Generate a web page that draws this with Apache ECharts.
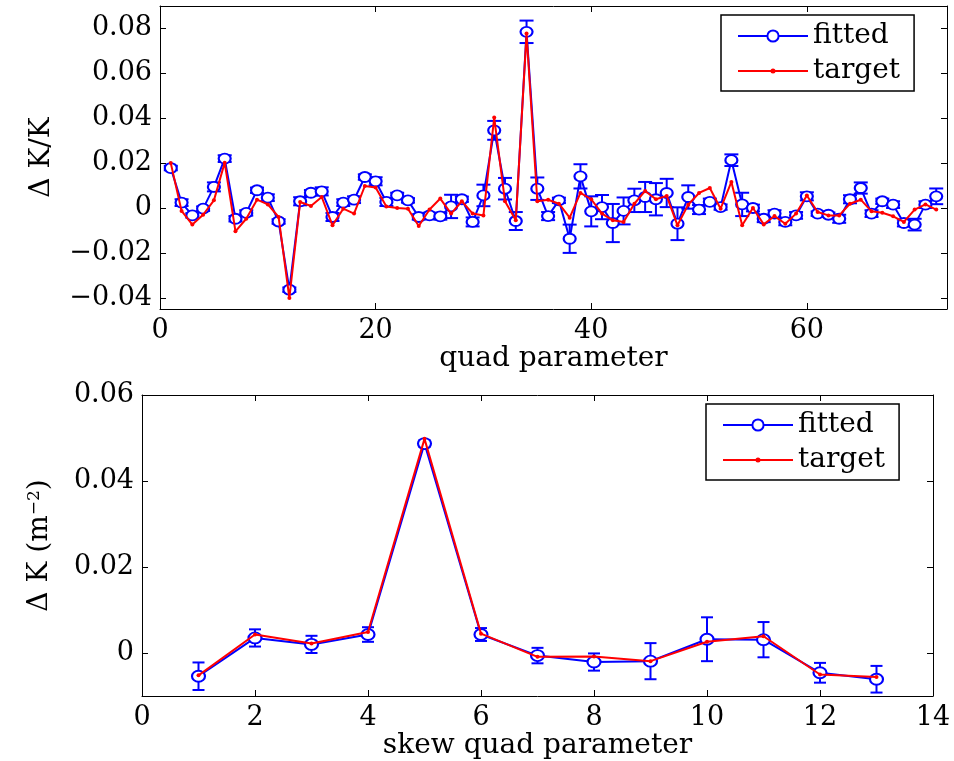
<!DOCTYPE html>
<html>
  <script src="https://cdn.jsdelivr.net/npm/echarts@6/dist/echarts.min.js"></script>
  <head>
    <meta charset="utf-8" />
    <title>quad fit</title>
  </head>
  <body style="margin:0">
    <div id="main" style="width: 954px; height: 761px;"></div>
  </body>
  <script>
    // top panel: quad parameters 1..72
    var quadFitted = [
      0.0178, 0.0024, -0.0033, -0.0003, 0.0094, 0.0220, -0.0048, -0.0022, 0.0079, 0.0046,
      -0.0060, -0.0364, 0.0030, 0.0068, 0.0074, -0.0040, 0.0024, 0.0037, 0.0138, 0.0119,
      0.0027, 0.0056, 0.0034, -0.0040, -0.0033, -0.0037, 0.0007, 0.0039, -0.0062, 0.0056,
      0.0346, 0.0086, -0.0058, 0.0785, 0.0086, -0.0036, 0.0034, -0.0137, 0.0141, -0.0015,
      0.0004, -0.0067, -0.0013, 0.0034, 0.0049, 0.0039, 0.0067, -0.0070, 0.0049, -0.0007,
      0.0027, 0.0004, 0.0213, 0.0016, 0.0000, -0.0048, -0.0025, -0.0062, -0.0033, 0.0052,
      -0.0025, -0.0030, -0.0048, 0.0039, 0.0089, -0.0025, 0.0030, 0.0015, -0.0067, -0.0074,
      0.0015, 0.0052
    ]
    var quadTarget = [
      0.0200, -0.0013, -0.0074, -0.0030, 0.0034, 0.0202, -0.0104, -0.0048, 0.0037, 0.0016,
      -0.0040, -0.0401, 0.0027, 0.0009, 0.0049, -0.0077, -0.0003, -0.0025, 0.0098, 0.0091,
      0.0007, 0.0000, -0.0003, -0.0080, -0.0007, 0.0042, -0.0025, 0.0030, -0.0025, -0.0033,
      0.0403, 0.0030, -0.0055, 0.0777, 0.0030, 0.0037, 0.0019, -0.0043, 0.0067, 0.0039,
      -0.0025, -0.0055, -0.0062, 0.0019, 0.0076, 0.0039, 0.0054, -0.0077, 0.0015, 0.0067,
      0.0089, -0.0003, 0.0116, -0.0077, 0.0000, -0.0073, -0.0036, -0.0070, -0.0025, 0.0056,
      -0.0018, -0.0033, -0.0033, 0.0019, 0.0037, -0.0015, -0.0021, -0.0037, -0.0062, -0.0007,
      0.0016, -0.0007
    ]
    var quadErr = [
      0.0010, 0.0015, 0.0010, 0.0010, 0.0020, 0.0015, 0.0012, 0.0012, 0.0012, 0.0015,
      0.0010, 0.0010, 0.0018, 0.0012, 0.0018, 0.0018, 0.0015, 0.0015, 0.0012, 0.0018,
      0.0018, 0.0012, 0.0010, 0.0012, 0.0012, 0.0015, 0.0052, 0.0012, 0.0020, 0.0048,
      0.0042, 0.0048, 0.0040, 0.0050, 0.0050, 0.0018, 0.0012, 0.0063, 0.0054, 0.0067,
      0.0054, 0.0085, 0.0060, 0.0052, 0.0067, 0.0072, 0.0063, 0.0073, 0.0052, 0.0020,
      0.0015, 0.0012, 0.0026, 0.0052, 0.0015, 0.0015, 0.0015, 0.0015, 0.0015, 0.0018,
      0.0010, 0.0010, 0.0018, 0.0018, 0.0025, 0.0015, 0.0012, 0.0015, 0.0015, 0.0026,
      0.0015, 0.0035
    ]
    var quadTicksX = [0, 20, 40, 60]
    var quadTicksY = [-0.04, -0.02, 0, 0.02, 0.04, 0.06, 0.08]

    // bottom panel: skew quad parameters 1..13
    var skewFitted = [-0.0054, 0.0035, 0.0020, 0.0043, 0.0487, 0.0043, -0.0006, -0.0021, -0.0019, 0.0032, 0.0031, -0.0046, -0.0061]
    var skewTarget = [-0.0052, 0.0043, 0.0022, 0.0049, 0.0498, 0.0045, -0.0009, -0.0008, -0.0019, 0.0026, 0.0039, -0.0050, -0.0056]
    var skewErr = [0.0032, 0.0020, 0.0020, 0.0017, 0.0008, 0.0015, 0.0018, 0.0020, 0.0042, 0.0051, 0.0041, 0.0023, 0.0031]
    var skewTicksX = [0, 2, 4, 6, 8, 10, 12, 14]
    var skewTicksY = [0, 0.02, 0.04, 0.06]

    var FONT = 'DejaVu Serif'
    var BLUE = '#0000ff'
    var RED = '#ff0000'
    // legend icon for target: thin line with a small dot in the middle
    var DOT_ICON = 'path://M0 6 H70 V8 H0 Z M32.5 7 A2.5 2.5 0 1 1 37.5 7 A2.5 2.5 0 1 1 32.5 7 Z'

    function pairs(vals) {
      var out = []
      for (var i = 0; i < vals.length; i++) out.push([i + 1, vals[i]])
      return out
    }
    function errData(vals, errs) {
      var out = []
      for (var i = 0; i < vals.length; i++) out.push([i + 1, vals[i] - errs[i], vals[i] + errs[i]])
      return out
    }
    function fmtY(v) {
      if (Math.abs(v) < 1e-9) return '0'
      return v.toFixed(2).replace('-', '\u2212')
    }

    function errRender(capW) {
      return function (params, api) {
        var x = api.value(0)
        var lo = api.coord([x, api.value(1)])
        var hi = api.coord([x, api.value(2)])
        var st = { stroke: BLUE, lineWidth: 2 }
        return {
          type: 'group',
          children: [
            { type: 'line', shape: { x1: lo[0], y1: lo[1], x2: hi[0], y2: hi[1] }, style: st },
            { type: 'line', shape: { x1: lo[0] - capW, y1: lo[1], x2: lo[0] + capW, y2: lo[1] }, style: st },
            { type: 'line', shape: { x1: hi[0] - capW, y1: hi[1], x2: hi[0] + capW, y2: hi[1] }, style: st },
          ],
        }
      }
    }

    function mainX(grid, min, max, ticks, name, gap) {
      return {
        type: 'value', gridIndex: grid, min: min, max: max, position: 'bottom',
        name: name, nameLocation: 'middle', nameGap: gap,
        nameTextStyle: { fontFamily: FONT, fontSize: 28, color: '#000' },
        axisLine: { onZero: false, lineStyle: { color: '#000', width: 1 } },
        axisTick: { inside: true, length: 6, customValues: ticks, lineStyle: { color: '#000' } },
        axisLabel: { customValues: ticks, fontFamily: FONT, fontSize: 27, color: '#000', margin: 8 },
        splitLine: { show: false },
      }
    }
    function boxX(grid, min, max, ticks) {
      return {
        type: 'value', gridIndex: grid, min: min, max: max, position: 'top',
        axisLine: { onZero: false, lineStyle: { color: '#000', width: 1 } },
        axisTick: { inside: true, length: 6, customValues: ticks, lineStyle: { color: '#000' } },
        axisLabel: { show: false }, splitLine: { show: false },
      }
    }
    function mainY(grid, min, max, ticks, name, gap) {
      return {
        type: 'value', gridIndex: grid, min: min, max: max, position: 'left',
        name: name, nameLocation: 'middle', nameGap: gap,
        nameTextStyle: {
          fontFamily: FONT, fontSize: 28, color: '#000',
          rich: { s: { fontFamily: FONT, fontSize: 17, color: '#000', verticalAlign: 'top' } },
        },
        axisLine: { show: true, onZero: false, lineStyle: { color: '#000', width: 1 } },
        axisTick: { show: true, inside: true, length: 6, customValues: ticks, lineStyle: { color: '#000' } },
        axisLabel: { customValues: ticks, formatter: fmtY, fontFamily: FONT, fontSize: 27, color: '#000', margin: 8 },
        splitLine: { show: false },
      }
    }
    function boxY(grid, min, max, ticks) {
      return {
        type: 'value', gridIndex: grid, min: min, max: max, position: 'right',
        axisLine: { show: true, onZero: false, lineStyle: { color: '#000', width: 1 } },
        axisTick: { show: true, inside: true, length: 6, customValues: ticks, lineStyle: { color: '#000' } },
        axisLabel: { show: false }, splitLine: { show: false },
      }
    }
    function legendAt(left, top) {
      return {
        orient: 'vertical', left: left, top: top,
        data: [{ name: 'fitted' }, { name: 'target', icon: DOT_ICON }],
        borderColor: '#000', borderWidth: 1.5, borderRadius: 0,
        padding: [6, 14, 5, 16], itemGap: 5,
        itemWidth: 70, itemHeight: 14,
        textStyle: { fontFamily: FONT, fontSize: 28, color: '#000', lineHeight: 30 },
        backgroundColor: '#fff',
      }
    }

    var chartDom = document.getElementById('main')
    var myChart = echarts.init(chartDom)
    var option = {
      animation: false,
      backgroundColor: '#fff',
      grid: [
        { left: 160, top: 6, width: 787, height: 303 },
        { left: 142, top: 395, width: 791, height: 301 },
      ],
      legend: [legendAt(721, 15), legendAt(706, 404)],
      xAxis: [
        mainX(0, 0, 73, quadTicksX, 'quad parameter', 31),
        boxX(0, 0, 73, quadTicksX),
        mainX(1, 0, 14, skewTicksX, 'skew quad parameter', 33),
        boxX(1, 0, 14, skewTicksX),
      ],
      yAxis: [
        mainY(0, -0.045, 0.09, quadTicksY, '\u0394 K/K', 104),
        boxY(0, -0.045, 0.09, quadTicksY),
        mainY(1, -0.01, 0.06, skewTicksY, '\u0394 K (m{s|\u22122})', 88),
        boxY(1, -0.01, 0.06, skewTicksY),
      ],
      series: [
        {
          type: 'custom', name: 'fittedErr', xAxisIndex: 0, yAxisIndex: 0, z: 2,
          renderItem: errRender(7), encode: { x: 0, y: [1, 2] }, data: errData(quadFitted, quadErr),
        },
        {
          type: 'line', name: 'fitted', xAxisIndex: 0, yAxisIndex: 0, z: 3,
          data: pairs(quadFitted), symbol: 'emptyCircle', symbolSize: [12, 10],
          lineStyle: { color: BLUE, width: 2 }, itemStyle: { color: BLUE, borderColor: BLUE, borderWidth: 2 },
        },
        {
          type: 'line', name: 'target', xAxisIndex: 0, yAxisIndex: 0, z: 4,
          data: pairs(quadTarget), symbol: 'circle', symbolSize: 4,
          lineStyle: { color: RED, width: 2 }, itemStyle: { color: RED },
        },
        {
          type: 'custom', name: 'fittedErr2', xAxisIndex: 2, yAxisIndex: 2, z: 2,
          renderItem: errRender(6), encode: { x: 0, y: [1, 2] }, data: errData(skewFitted, skewErr),
        },
        {
          type: 'line', name: 'fitted', xAxisIndex: 2, yAxisIndex: 2, z: 3,
          data: pairs(skewFitted), symbol: 'emptyCircle', symbolSize: [13, 11],
          lineStyle: { color: BLUE, width: 2 }, itemStyle: { color: BLUE, borderColor: BLUE, borderWidth: 2 },
        },
        {
          type: 'line', name: 'target', xAxisIndex: 2, yAxisIndex: 2, z: 4,
          data: pairs(skewTarget), symbol: 'circle', symbolSize: 4,
          lineStyle: { color: RED, width: 2 }, itemStyle: { color: RED },
        },
      ],
    }
    option && myChart.setOption(option)
  </script>
</html>
